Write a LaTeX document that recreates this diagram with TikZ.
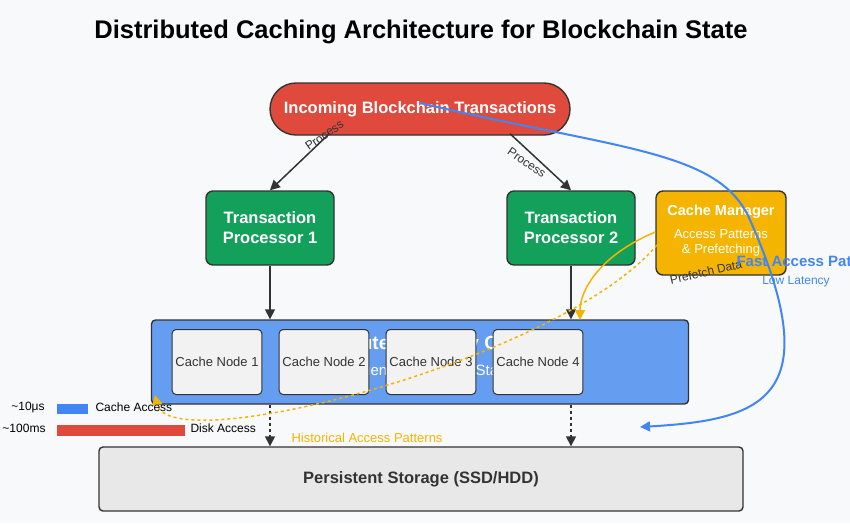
\documentclass[tikz,border=0pt]{standalone}
\usepackage{fontspec}
\setmainfont{Liberation Sans}
\usetikzlibrary{arrows.meta}
\definecolor{bgc}{HTML}{F8F9FB}
\definecolor{redc}{HTML}{DF4A3C}
\definecolor{greenc}{HTML}{13A05A}
\definecolor{orangec}{HTML}{F4B400}
\definecolor{bluec}{HTML}{659DF0}
\definecolor{linec}{HTML}{4285F4}
\definecolor{darkc}{HTML}{333333}
\tikzset{
  box/.style={draw=darkc,line width=1.4pt,rounded corners=7pt,text=white,font=\bfseries\fontsize{16.5}{20}\selectfont,align=center},
  cachenode/.style={draw=darkc,line width=1pt,fill=gray!10,rounded corners=4pt,minimum width=85pt,minimum height=65pt,font=\fontsize{13}{15}\selectfont,text=darkc},
  flow/.style={draw=darkc,line width=1.5pt,-{Triangle[length=10pt,width=10pt]}},
  lbl/.style={font=\fontsize{12}{14}\selectfont,text=darkc}
}
\begin{document}
\begin{tikzpicture}[x=1pt,y=-1pt]
	\clip (0,0) rectangle (850,523);
	\fill[bgc] (0,0) rectangle (850,523);
	\node[font=\bfseries\fontsize{25.5}{30}\selectfont] (title) at (421,32) {Distributed Caching Architecture for Blockchain State};
	% main boxes
	\node[box,fill=redc,rounded corners=26pt,minimum width=300pt,minimum height=52pt] (tx) at (420,109) {Incoming Blockchain Transactions};
	\node[box,fill=greenc,minimum width=128pt,minimum height=74pt] (tp1) at (270,228) {Transaction\\Processor 1};
	\node[box,fill=greenc,minimum width=128pt,minimum height=74pt] (tp2) at (571,228) {Transaction\\Processor 2};
	\node[box,fill=orangec,minimum width=130pt,minimum height=84pt] (cm) at (721,233) {};
	\node[text=white,font=\bfseries\fontsize{14.5}{17}\selectfont] (cmt) at (721,212) {Cache Manager};
	\node[text=white,align=center,font=\fontsize{13}{15}\selectfont] (cms) at (721,243) {Access Patterns\\\& Prefetching};
	\node[box,fill=bluec,rounded corners=4pt,minimum width=537pt,minimum height=84pt] (layer) at (420,362) {};
	\node[text=white,font=\bfseries\fontsize{19}{22}\selectfont] (lt) at (421,345) {Distributed Memory Cache};
	\node[text=white,font=\fontsize{15}{17}\selectfont] (ls) at (421,372) {Frequently Accessed State};
	\foreach \i/\x in {1/217,2/324,3/431,4/538}
		\node[cachenode] (cn\i) at (\x,362) {Cache Node \i};
	\node[box,fill=gray!18,text=darkc,rounded corners=4pt,minimum width=644pt,minimum height=64pt] (store) at (421,479) {Persistent Storage (SSD/HDD)};
	% flows
	\draw[flow] (tx.south west) ++(60,-2) coordinate (a1) (a1) -- (tp1.north) node[lbl,pos=0.35,above right,rotate=35,inner sep=1pt] {Process};
	\draw[flow] (tx.south) ++(90,-2) coordinate (a2) (a2) -- (tp2.north) node[lbl,pos=0.35,above right,rotate=-35,xshift=-22pt,yshift=-16pt,inner sep=1pt] {Process};
	\draw[flow] (tp1.south) -- (tp1.south |- layer.north);
	\draw[flow] (tp2.south) -- (tp2.south |- layer.north);
	\draw[flow,dashed] (tp1.south |- layer.south) -- (tp1.south |- store.north);
	\draw[flow,dashed] (tp2.south |- layer.south) -- (tp2.south |- store.north);
	% cache manager links
	\draw[orangec,line width=1.5pt,-{Triangle[length=10pt,width=10pt]}] (cm.west) ++(0,-1) coordinate (c1) (c1) .. controls (600,255) and (580,290) .. (580,320);
	\coordinate (c2) at (657,245);
	\coordinate (c3) at (155,395);
	\draw[orangec,line width=1.5pt,dashed,-{Triangle[length=10pt,width=10pt]}] (c2) .. controls (560,360) and (170,460) .. (c3);
	\node[lbl,rotate=13] (pf) at (706,272) {Prefetch Data};
	\node[text=orangec,font=\fontsize{13}{15}\selectfont] (hist) at (367,438) {Historical Access Patterns};
	% fast path
	\coordinate (f1) at (420,103);
	\coordinate (f2) at (640,427);
	\draw[linec,line width=2pt,-{Triangle[length=10pt,width=10pt]}] (f1) .. controls (620,150) and (720,150) .. (750,220) .. controls (830,400) and (760,420) .. (f2);
	\node[text=linec,anchor=west,font=\bfseries\fontsize{15}{17}\selectfont] (fp) at (733,261) {Fast Access Path};
	\node[text=linec,font=\fontsize{12}{14}\selectfont] (ll) at (796,282) {Low Latency};
	% legend
	\node[lbl,text=black] (l1) at (28,407) {\textasciitilde10μs};
	\fill[linec] (57,404) rectangle (88,414);
	\node[lbl,anchor=west,text=black] (l1t) at (92,407) {Cache Access};
	\node[lbl,text=black] (l2) at (24,428) {\textasciitilde100ms};
	\fill[redc] (57,425) rectangle (185,436);
	\node[lbl,anchor=west,text=black] (l2t) at (187,428) {Disk Access};
\end{tikzpicture}
\end{document}
